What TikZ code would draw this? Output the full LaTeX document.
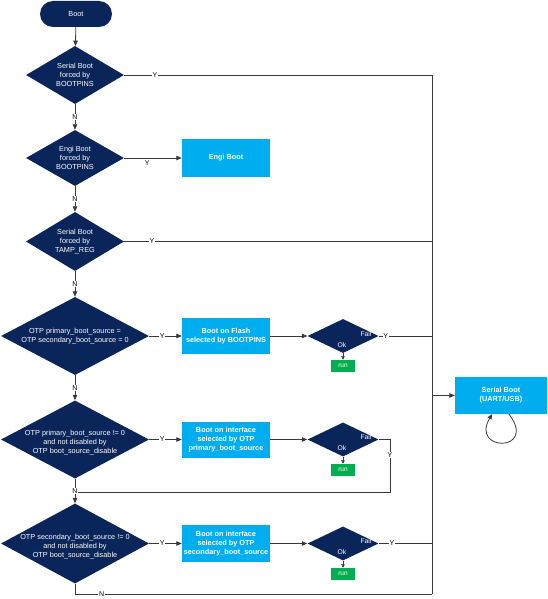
\documentclass[tikz,border=0pt]{standalone}
\usepackage{fontspec}
\setmainfont{Liberation Sans}
\usetikzlibrary{shapes.geometric,arrows.meta}
\definecolor{navy}{HTML}{0A2559}
\definecolor{sky}{HTML}{00AEEF}
\definecolor{grn}{HTML}{00B050}
\definecolor{lncol}{HTML}{3A3A3A}
\begin{document}
\begin{tikzpicture}[x=1pt,y=-1pt,
 txt/.style={font=\fontsize{7.3}{8.8}\selectfont, text=white, align=center},
 term/.style={fill=navy, rounded corners=13pt, minimum width=72pt, minimum height=26pt, txt},
 dec/.style={diamond, fill=navy, inner sep=0pt},
 procbox/.style={rectangle, fill=sky, minimum width=88pt, inner xsep=1pt, text=white, align=center, font=\fontsize{7.3}{8.8}\selectfont\bfseries},
 runbox/.style={fill=grn, minimum width=24pt, minimum height=12pt, inner sep=0pt, text=white, font=\fontsize{6.5}{7}\selectfont},
 smalltxt/.style={text=white, inner sep=0pt, font=\fontsize{6.8}{8}\selectfont},
 ln/.style={draw=lncol, line width=0.8pt},
 arr/.style={ln, -{Triangle[length=5.5pt,width=4.5pt]}},
 sarr/.style={ln, -{Triangle[length=3.5pt,width=3.5pt]}},
 lbl/.style={fill=white, inner sep=0.8pt, font=\fontsize{7}{8}\selectfont, text=black},
]
\useasboundingbox (0,0) rectangle (548,599);

% main column
\node[term] (boot) at (76,14) {Boot};
\node[dec, minimum width=98pt, minimum height=58pt,
  label={[txt]center:{Serial Boot\\forced by\\BOOTPINS}}] (d1) at (75,75) {};
\node[dec, minimum width=98pt, minimum height=56pt,
  label={[txt]center:{Engi Boot\\forced by\\BOOTPINS}}] (d2) at (75,158) {};
\node[dec, minimum width=98pt, minimum height=59pt,
  label={[txt]center:{Serial Boot\\forced by\\TAMP\_REG}}] (d3) at (75,241.5) {};
\node[dec, minimum width=148pt, minimum height=78pt,
  label={[txt]center:{OTP primary\_boot\_source =\\OTP secondary\_boot\_source = 0}}] (d4) at (75,336) {};
\node[dec, minimum width=148pt, minimum height=78pt,
  label={[txt,yshift=-3pt]center:{OTP primary\_boot\_source != 0\\and not disabled by\\OTP boot\_source\_disable}}] (d5) at (75,439.5) {};
\node[dec, minimum width=148pt, minimum height=80pt,
  label={[txt,yshift=-3pt]center:{OTP secondary\_boot\_source != 0\\and not disabled by\\OTP boot\_source\_disable}}] (d6) at (75,543.5) {};

% process boxes
\node[procbox, minimum height=38pt] (engi) at (226,158) {Engi Boot};
\node[procbox, minimum height=36pt] (flash) at (226,336) {Boot on Flash\\selected by BOOTPINS};
\node[procbox, minimum height=36pt] (prim) at (226,439.5) {Boot on interface\\selected by OTP\\primary\_boot\_source};
\node[procbox, minimum height=37pt] (sec) at (226,543.5) {Boot on interface\\selected by OTP\\secondary\_boot\_source};

% fail diamonds
\node[dec, minimum width=71pt, minimum height=34pt] (f1) at (343,336) {};
\node[dec, minimum width=71pt, minimum height=34pt] (f2) at (343,439.5) {};
\node[dec, minimum width=71pt, minimum height=34pt] (f3) at (343,543.5) {};
\node[smalltxt] (f1a) at (366,334) {Fail};
\node[smalltxt] (f1b) at (342,345) {Ok};
\node[smalltxt] (f2a) at (366,437.5) {Fail};
\node[smalltxt] (f2b) at (342,448.5) {Ok};
\node[smalltxt] (f3a) at (366,541.5) {Fail};
\node[smalltxt] (f3b) at (342,552.5) {Ok};

% run boxes
\node[runbox] (r1) at (343,366) {run};
\node[runbox] (r2) at (343,470) {run};
\node[runbox] (r3) at (343,574) {run};

% serial boot
\node[procbox, minimum width=92pt, minimum height=37pt] (sb) at (501,395.5) {Serial Boot\\(UART/USB)};

% bus coordinates
\coordinate (bt) at (432,75);
\coordinate (bb) at (432,594);
\coordinate (f2c) at (390,439.5);
\coordinate (f2d) at (390,492);
\coordinate (j5) at (75,492);
\coordinate (c6) at (75,594);

% fail2 loop back (drawn before the N arrow so its label covers the joint)
\draw[ln] (f2.east) -- (f2c) -- node[lbl,pos=0.3]{Y} (f2d) -- (j5);

% vertical chain
\draw[arr] (boot) -- (d1);
\draw[arr] (d1) -- node[lbl]{N} (d2);
\draw[arr] (d2) -- node[lbl]{N} (d3);
\draw[arr] (d3) -- node[lbl]{N} (d4);
\draw[arr] (d4) -- node[lbl]{N} (d5);
\draw[arr] (d5) -- node[lbl]{N} (d6);

% Y branches to boxes
\draw[arr] (d2) -- node[lbl,pos=0.4,below=1pt,fill=none]{Y} (engi);
\draw[arr] (d4) -- node[lbl,pos=0.4]{Y} (flash);
\draw[arr] (d5) -- node[lbl,pos=0.4]{Y} (prim);
\draw[arr] (d6) -- node[lbl,pos=0.4]{Y} (sec);

% boxes to fail diamonds
\draw[arr] (flash) -- (f1);
\draw[arr] (prim) -- (f2);
\draw[arr] (sec) -- (f3);
\draw[sarr] (f1) -- (r1);
\draw[sarr] (f2) -- (r2);
\draw[sarr] (f3) -- (r3);

% lines to the bus
\draw[ln] (d1.east) -- node[lbl,pos=0.1]{Y} (bt) -- (bb);
\draw[ln] (d3.east) -- node[lbl,pos=0.09]{Y} (d3.east -| bt);
\draw[ln] (f1.east) -- node[lbl,pos=0.13]{Y} (f1.east -| bt);
\draw[ln] (f3.east) -- node[lbl,pos=0.25]{Y} (f3.east -| bt);
\draw[ln] (d6.south) -- (c6) -- node[lbl,pos=0.075]{N} (bb);
\draw[arr] (bt |- sb.west) -- (sb.west);

% self loop
\draw[ln, -{Triangle[length=5pt,width=4.5pt]}] ([xshift=8pt]sb.south) .. controls +(29,38) and +(-22,38) .. ([xshift=-9pt]sb.south);
\end{tikzpicture}
\end{document}
